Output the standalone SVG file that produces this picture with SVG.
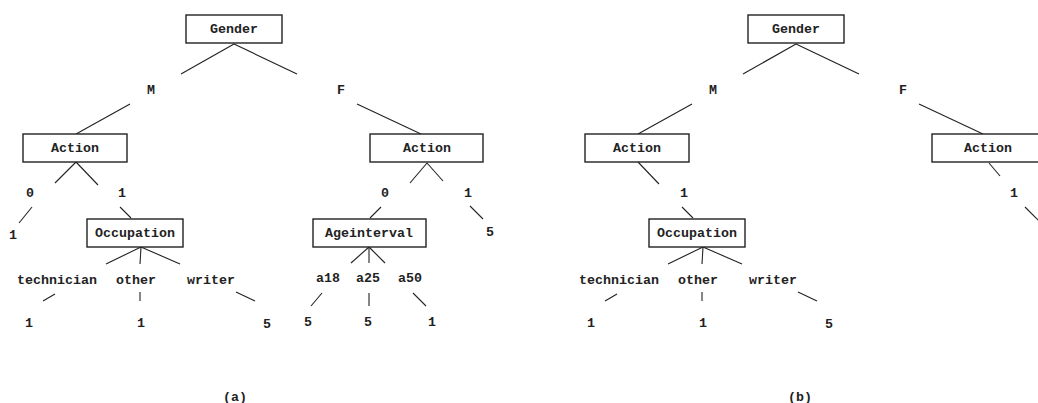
<svg xmlns="http://www.w3.org/2000/svg" width="1038" height="403" viewBox="0 0 1038 403">
<style>
rect{fill:#fff;stroke:#222;stroke-width:1.4}
line{stroke:#222;stroke-width:1.1}
text{font-family:"Liberation Mono","Courier New",monospace;font-size:13.3px;font-weight:bold;fill:#222;text-anchor:middle}
</style>
<rect x="0" y="0" width="1038" height="403" style="fill:#fff;stroke:none"/>
<g id="connectors">
<line x1="234" y1="44" x2="181" y2="74"/><line x1="234" y1="44" x2="297" y2="74"/>
<line x1="130" y1="104" x2="76" y2="134"/><line x1="357" y1="104" x2="421" y2="134"/>
<line x1="76" y1="162" x2="55" y2="183"/><line x1="76" y1="162" x2="98" y2="185"/>
<line x1="427" y1="163" x2="410" y2="183"/><line x1="427" y1="163" x2="443" y2="181"/>
<line x1="32" y1="207" x2="19" y2="223"/><line x1="120" y1="207" x2="131" y2="218"/>
<line x1="141" y1="247" x2="106" y2="264"/><line x1="141" y1="247" x2="140" y2="264"/><line x1="141" y1="247" x2="180" y2="264"/>
<line x1="55" y1="294" x2="43" y2="301"/><line x1="140" y1="292" x2="140" y2="301"/><line x1="236" y1="292" x2="255" y2="301"/>
<line x1="381" y1="207" x2="370" y2="218"/>
<line x1="369" y1="247" x2="351" y2="263"/><line x1="369" y1="247" x2="369" y2="263"/><line x1="369" y1="247" x2="385" y2="263"/>
<line x1="322" y1="293" x2="311" y2="306"/><line x1="369" y1="293" x2="369" y2="306"/><line x1="413" y1="293" x2="426" y2="306"/>
<line x1="470" y1="206" x2="483" y2="219"/>
<line x1="796" y1="44" x2="743" y2="74"/><line x1="796" y1="44" x2="859" y2="74"/>
<line x1="692" y1="104" x2="638" y2="134"/><line x1="919" y1="104" x2="983" y2="134"/>
<line x1="638" y1="162" x2="659" y2="184"/>
<line x1="682" y1="207" x2="693" y2="218"/>
<line x1="703" y1="247" x2="668" y2="264"/><line x1="703" y1="247" x2="702" y2="264"/><line x1="703" y1="247" x2="742" y2="264"/>
<line x1="617" y1="294" x2="605" y2="301"/><line x1="702" y1="292" x2="702" y2="301"/><line x1="798" y1="292" x2="817" y2="301"/>
<line x1="989" y1="163" x2="1000" y2="176"/>
<line x1="1025" y1="207" x2="1040" y2="222"/>
</g>
<g id="a-gender"><rect x="186" y="15" width="96" height="28"/><text x="234" y="33">Gender</text></g>
<g id="a-M"><text x="151" y="94">M</text></g>
<g id="a-F"><text x="341" y="94">F</text></g>
<g id="a-action-m"><rect x="23" y="134" width="104" height="28"/><text x="75" y="152">Action</text></g>
<g id="a-action-f"><rect x="370" y="134" width="113" height="28"/><text x="427" y="152">Action</text></g>
<g id="a-m0"><text x="30" y="197">0</text></g>
<g id="a-m1"><text x="122" y="197">1</text></g>
<g id="a-f0"><text x="385" y="197">0</text></g>
<g id="a-f1"><text x="468" y="197">1</text></g>
<g id="a-m0-leaf"><text x="13" y="239">1</text></g>
<g id="a-occupation"><rect x="87" y="219" width="96" height="28"/><text x="135" y="237">Occupation</text></g>
<g id="a-technician"><text x="57" y="284">technician</text></g>
<g id="a-other"><text x="136" y="284">other</text></g>
<g id="a-writer"><text x="211" y="284">writer</text></g>
<g id="a-tech-leaf"><text x="29" y="327">1</text></g>
<g id="a-other-leaf"><text x="141" y="327">1</text></g>
<g id="a-writer-leaf"><text x="267" y="328">5</text></g>
<g id="a-ageinterval"><rect x="313" y="219" width="113" height="28"/><text x="369" y="237">Ageinterval</text></g>
<g id="a-a18"><text x="328" y="282">a18</text></g>
<g id="a-a25"><text x="368" y="282">a25</text></g>
<g id="a-a50"><text x="410" y="282">a50</text></g>
<g id="a-a18-leaf"><text x="308" y="326">5</text></g>
<g id="a-a25-leaf"><text x="368" y="326">5</text></g>
<g id="a-a50-leaf"><text x="432" y="326">1</text></g>
<g id="a-f1-leaf"><text x="490" y="236">5</text></g>
<g id="a-caption"><text x="235" y="401">(a)</text></g>
<g id="b-gender"><rect x="748" y="15" width="96" height="28"/><text x="796" y="33">Gender</text></g>
<g id="b-M"><text x="713" y="94">M</text></g>
<g id="b-F"><text x="903" y="94">F</text></g>
<g id="b-action-m"><rect x="585" y="134" width="104" height="28"/><text x="637" y="152">Action</text></g>
<g id="b-action-f"><rect x="932" y="134" width="113" height="28"/><text x="988" y="152">Action</text></g>
<g id="b-m1"><text x="684" y="197">1</text></g>
<g id="b-f1"><text x="1014" y="197">1</text></g>
<g id="b-occupation"><rect x="649" y="219" width="96" height="28"/><text x="697" y="237">Occupation</text></g>
<g id="b-technician"><text x="619" y="284">technician</text></g>
<g id="b-other"><text x="698" y="284">other</text></g>
<g id="b-writer"><text x="773" y="284">writer</text></g>
<g id="b-tech-leaf"><text x="591" y="327">1</text></g>
<g id="b-other-leaf"><text x="703" y="327">1</text></g>
<g id="b-writer-leaf"><text x="829" y="328">5</text></g>
<g id="b-caption"><text x="800" y="401">(b)</text></g>
</svg>
